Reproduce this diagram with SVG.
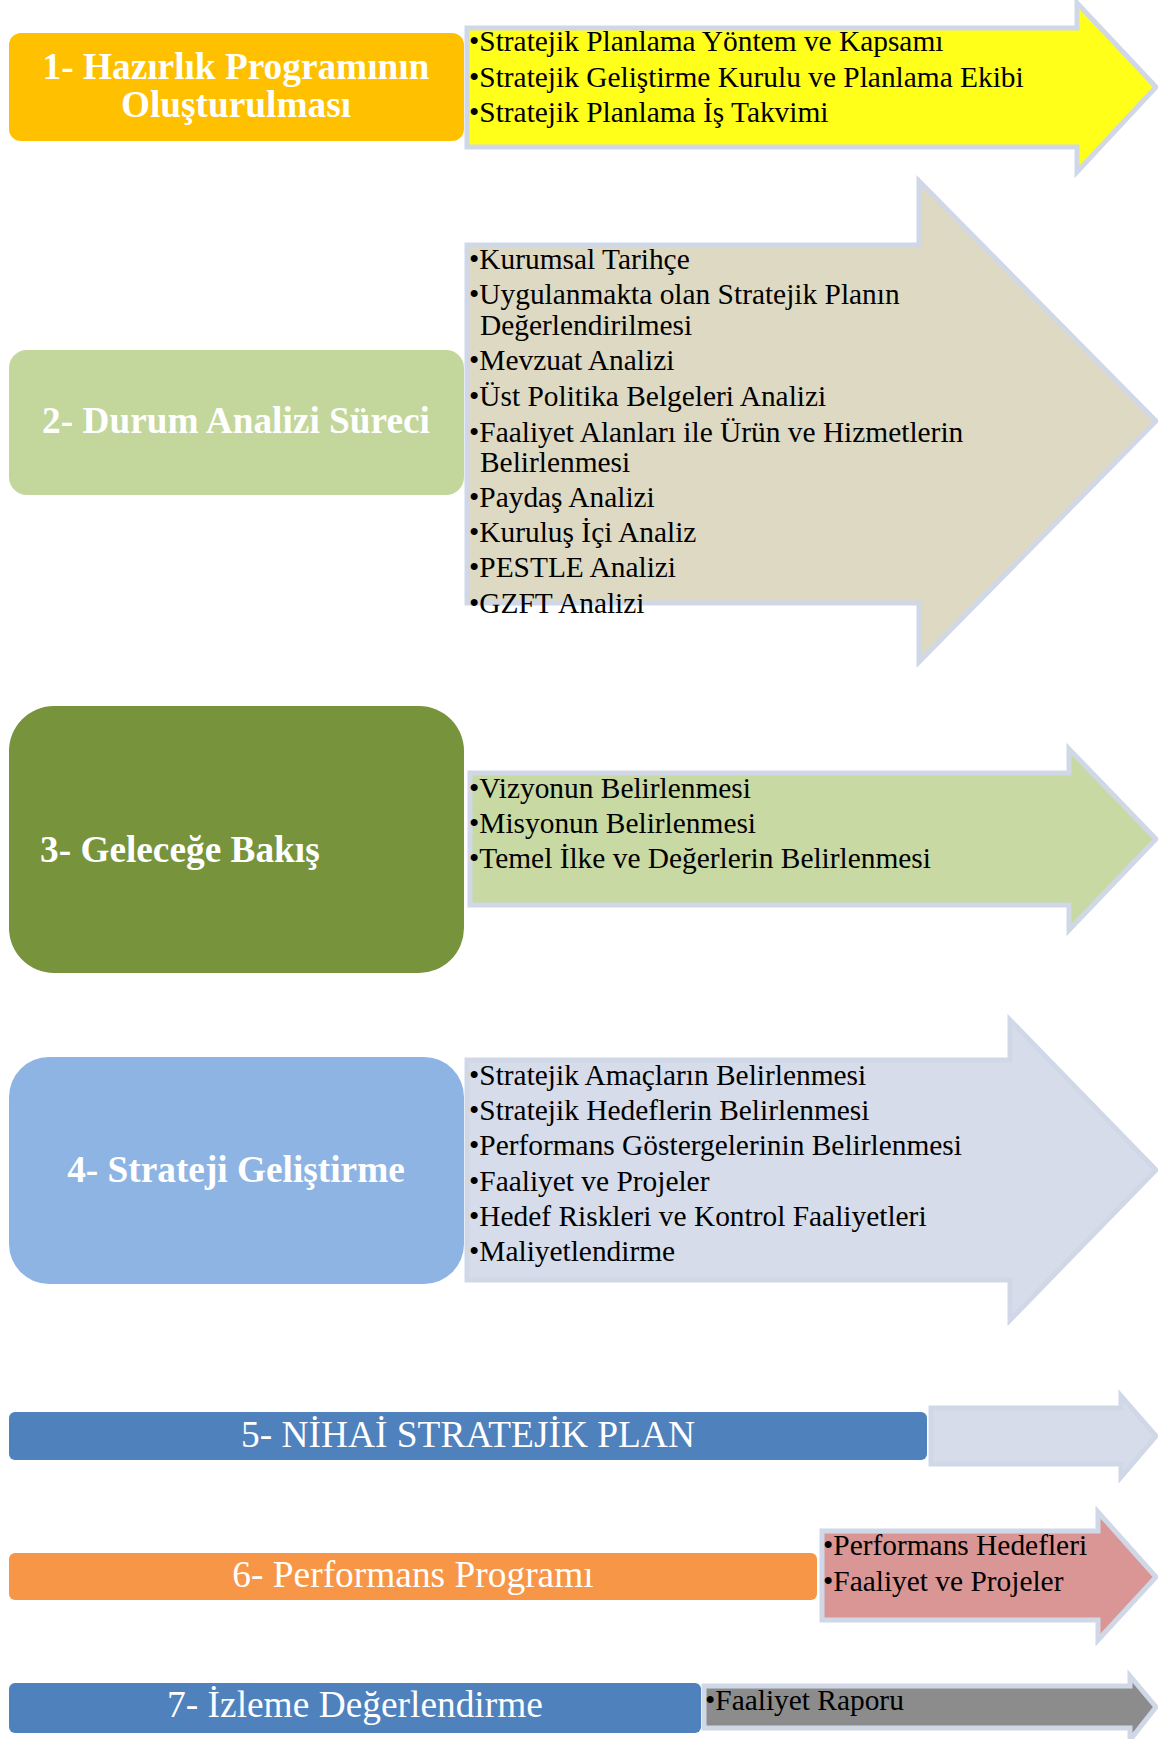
<svg xmlns="http://www.w3.org/2000/svg" width="1158" height="1739" viewBox="0 0 1158 1739">
<style>
.arr{stroke:#D0D8E8;stroke-width:5;stroke-linejoin:miter}
.bt{font-family:"Liberation Serif","Times New Roman",serif;font-weight:bold;fill:#FFFFFF;font-size:37.3px}
.rt{font-family:"Liberation Serif","Times New Roman",serif;fill:#FFFFFF;font-size:37.4px;text-anchor:middle}
.it{font-family:"Liberation Serif","Times New Roman",serif;fill:#000000;font-size:29.4px}
</style>
<rect width="1158" height="1739" fill="#FFFFFF"/>

<g id="step1-box">
<rect x="9" y="33" width="455" height="108" rx="12" fill="#FFC000"/>
<text class="bt" text-anchor="middle" x="236" y="79">1- Hazırlık Programının</text>
<text class="bt" text-anchor="middle" x="236" y="117">Oluşturulması</text>
</g>
<g id="step1-arrow">
<polygon class="arr" fill="#FFFF1A" points="467,28 1077,28 1077,3 1156,87 1077,172 1077,147 467,147"/>
<text class="it" x="469" y="51">•Stratejik Planlama Yöntem ve Kapsamı</text>
<text class="it" x="469" y="87">•Stratejik Geliştirme Kurulu ve Planlama Ekibi</text>
<text class="it" x="469" y="122">•Stratejik Planlama İş Takvimi</text>
</g>

<g id="step2-box">
<rect x="9" y="350" width="455" height="145" rx="18" fill="#C3D69B"/>
<text class="bt" text-anchor="middle" x="236" y="433">2- Durum Analizi Süreci</text>
</g>
<g id="step2-arrow">
<polygon class="arr" fill="#DDD9C3" points="467,245 919,245 919,181 1156,421 919,662 919,603 467,603"/>
<text class="it" x="469" y="269">•Kurumsal Tarihçe</text>
<text class="it" x="469" y="304">•Uygulanmakta olan Stratejik Planın</text>
<text class="it" x="480" y="335">Değerlendirilmesi</text>
<text class="it" x="469" y="370">•Mevzuat Analizi</text>
<text class="it" x="469" y="406">•Üst Politika Belgeleri Analizi</text>
<text class="it" x="469" y="442">•Faaliyet Alanları ile Ürün ve Hizmetlerin</text>
<text class="it" x="480" y="472">Belirlenmesi</text>
<text class="it" x="469" y="507">•Paydaş Analizi</text>
<text class="it" x="469" y="542">•Kuruluş İçi Analiz</text>
<text class="it" x="469" y="577">•PESTLE Analizi</text>
<text class="it" x="469" y="613">•GZFT Analizi</text>
</g>

<g id="step3-box">
<rect x="9" y="706" width="455" height="267" rx="45" fill="#77933C"/>
<text class="bt" x="40" y="862">3- Geleceğe Bakış</text>
</g>
<g id="step3-arrow">
<polygon class="arr" fill="#C9D9A3" points="470,773 1069,773 1069,749 1156,839 1069,930 1069,905 470,905"/>
<text class="it" x="469" y="798">•Vizyonun Belirlenmesi</text>
<text class="it" x="469" y="833">•Misyonun Belirlenmesi</text>
<text class="it" x="469" y="868">•Temel İlke ve Değerlerin Belirlenmesi</text>
</g>

<g id="step4-box">
<rect x="9" y="1057" width="455" height="227" rx="40" fill="#8EB4E3"/>
<text class="bt" text-anchor="middle" x="236" y="1182">4- Strateji Geliştirme</text>
</g>
<g id="step4-arrow">
<polygon class="arr" fill="#D6DCE9" points="467,1060 1010,1060 1010,1020 1156,1170 1010,1320 1010,1280 467,1280"/>
<text class="it" x="469" y="1085">•Stratejik Amaçların Belirlenmesi</text>
<text class="it" x="469" y="1120">•Stratejik Hedeflerin Belirlenmesi</text>
<text class="it" x="469" y="1155">•Performans Göstergelerinin Belirlenmesi</text>
<text class="it" x="469" y="1191">•Faaliyet ve Projeler</text>
<text class="it" x="469" y="1226">•Hedef Riskleri ve Kontrol Faaliyetleri</text>
<text class="it" x="469" y="1261">•Maliyetlendirme</text>
</g>

<g id="step5-box">
<rect x="9" y="1412" width="918" height="48" rx="6" fill="#4F81BD"/>
<text class="rt" x="468" y="1447">5- NİHAİ STRATEJİK PLAN</text>
</g>
<g id="step5-arrow">
<polygon class="arr" fill="#D6DCE9" points="931,1408 1121,1408 1121,1396 1156,1436 1121,1477 1121,1464 931,1464"/>
</g>

<g id="step6-box">
<rect x="9" y="1553" width="808" height="47" rx="6" fill="#F79646"/>
<text class="rt" x="413" y="1587">6- Performans Programı</text>
</g>
<g id="step6-arrow">
<polygon class="arr" fill="#DA9694" points="822,1531 1098,1531 1098,1512 1156,1577 1098,1640 1098,1620 822,1620"/>
<text class="it" x="823" y="1555">•Performans Hedefleri</text>
<text class="it" x="823" y="1591">•Faaliyet ve Projeler</text>
</g>

<g id="step7-box">
<rect x="9" y="1683" width="692" height="50" rx="6" fill="#4F81BD"/>
<text class="rt" x="355" y="1717">7- İzleme Değerlendirme</text>
</g>
<g id="step7-arrow">
<polygon class="arr" fill="#8C8C8C" points="704,1686 1130,1686 1130,1676 1156,1707 1130,1740 1130,1728 704,1728"/>
<text class="it" x="705" y="1710">•Faaliyet Raporu</text>
</g>
</svg>
